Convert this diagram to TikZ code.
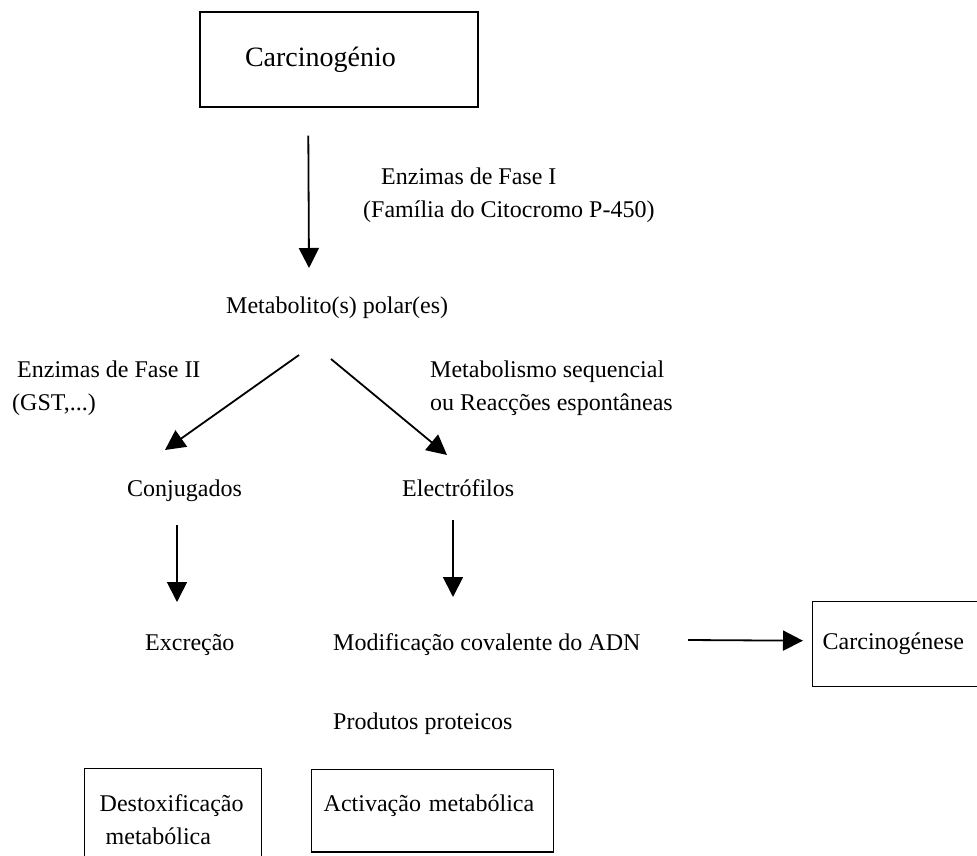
\documentclass[tikz,border=0pt]{standalone}
\usepackage{fontspec}
\setmainfont{Liberation Serif}
\usetikzlibrary{arrows.meta}

\tikzset{
  arr/.style={-{Triangle[length=20pt,width=20pt]}, line width=1.8pt},
  lbl/.style={inner sep=0pt, anchor=base west},
  twoline/.style={inner sep=0pt, anchor=north west, align=left},
  box/.style={draw, line width=1.4pt, align=left}
}

\begin{document}
\begin{tikzpicture}[x=1pt, y=-1pt, font=\fontsize{24}{33}\selectfont]

%page frame
\path[use as bounding box, clip] (0,0) rectangle (977,855);

%boxes
\node[box, minimum width=278pt, minimum height=95pt, inner xsep=45pt, text width=188pt, font=\fontsize{28}{33}\selectfont] (carc) at (339,59.5) {Carcinog\'enio};
\node[box, anchor=north west, minimum height=85pt, inner xsep=10pt, text width=320pt] (carcb) at (812,601) {Carcinog\'enese};
\node[box, anchor=north west, inner xsep=15pt, inner ysep=25.6pt, text width=147pt] (destox) at (84,768) {Destoxifica\c{c}\~ao\\\hspace*{6pt}metab\'olica};
\node[box, anchor=north west, inner xsep=12pt, inner ysep=24.6pt, text width=218pt, text depth=16.4pt] (activ) at (311,769) {Activa\c{c}\~ao metab\'olica};

%text
\node[lbl] (meta) at (226,313) {Metabolito(s) polar(es)};
\node[lbl] (conj) at (127,496) {Conjugados};
\node[lbl] (elec) at (402,496) {Electr\'ofilos};
\node[lbl] (excr) at (145,650) {Excre\c{c}\~ao};
\node[lbl] (modi) at (333,650) {Modifica\c{c}\~ao covalente do ADN};
\node[lbl] (prod) at (333,729) {Produtos proteicos};

%labels of the arrows
\node[twoline] (fase1) at (363,167.6) {\hspace*{18pt}Enzimas de Fase I\\(Fam\'{\i}lia do Citocromo P-450)};
\node[twoline] (fase2) at (12,360.6) {\hspace*{5pt}Enzimas de Fase II\\(GST,...)};
\node[twoline] (seq) at (430,360.6) {Metabolismo sequencial\\ou Reac\c{c}\~oes espont\^aneas};

%arrows
\draw[arr] ([shift={(109,28)}]carc.south west) -- ([shift={(83,-45)}]meta.base west);
\draw[arr] ([shift={(73,42)}]meta.base west) -- ([shift={(38,-46)}]conj.base west);
\draw[arr] ([shift={(105,46)}]meta.base west) -- ([shift={(45,-41)}]elec.base west);
\draw[arr] ([shift={(50,29)}]conj.base west) -- ([shift={(32,-48)}]excr.base west);
\draw[arr] ([shift={(51,24)}]elec.base west) -- ([shift={(120,-53)}]modi.base west);
\draw[arr] ([shift={(355,-10)}]modi.base west) -- ([shift={(-9,-3.5)}]carcb.west);

\end{tikzpicture}
\end{document}
